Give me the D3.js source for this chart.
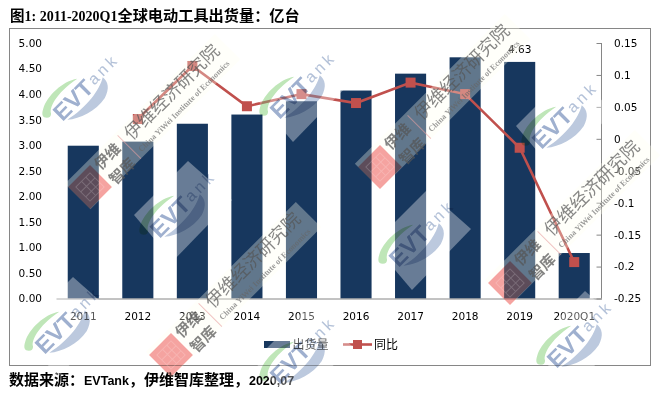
<!DOCTYPE html>
<html><head><meta charset="utf-8">
<script src="https://cdn.jsdelivr.net/npm/d3@7"></script>
<style>html,body{margin:0;padding:0;background:#fff}svg{display:block}</style></head>
<body><svg id="c" width="660" height="393"></svg>
<script>
const categories=["2011","2012","2013","2014","2015","2016","2017","2018","2019","2020Q1"];
const shipments=[2.99,3.07,3.42,3.60,3.86,4.07,4.40,4.72,4.63,0.89];
const growth=[null,0.031,0.114,0.051,0.070,0.056,0.088,0.070,-0.014,-0.193];
const leftTicks=[0,0.5,1,1.5,2,2.5,3,3.5,4,4.5,5];
const rightTicks=[0.15,0.1,0.05,0,-0.05,-0.1,-0.15,-0.2,-0.25];
const logoSpots=[[73,100],[290,98],[552,128],[170,217],[409,246],[55,333],[290,363],[567,347]];
const stampSpots=[[90,187],[380,167],[510,283],[171,355]];

const svg=d3.select("#c");
const F="'DejaVu Sans',sans-serif";
const CJK="'Noto Sans CJK SC'";
const title=svg.append("text").attr("x",10).attr("y",21).attr("font-weight","bold").attr("fill","#000");
title.append("tspan").attr("font-family",CJK).attr("font-size",14.5).text("图");
title.append("tspan").attr("font-family","'Liberation Serif'").attr("font-size",14).text("1: 2011-2020Q1");
title.append("tspan").attr("font-family",CJK).attr("font-size",15.2).text("全球电动工具出货量：亿台");
svg.append("rect").attr("x",9.5).attr("y",28.5).attr("width",641).attr("height",337)
 .attr("fill","#fff").attr("stroke","#868686");

const x=d3.scaleBand().domain(categories).range([56,601.5]).paddingInner(0.43).paddingOuter(0.215);
const yL=d3.scaleLinear().domain([0,5]).range([298.5,43]);
const yR=d3.scaleLinear().domain([-0.25,0.15]).range([298.5,43]);

svg.append("g").selectAll("rect").data(shipments).join("rect")
 .attr("x",(d,i)=>x(categories[i])).attr("width",x.bandwidth())
 .attr("y",d=>yL(d)).attr("height",d=>yL(0)-yL(d)).attr("fill","#17375e");
svg.append("text").attr("x",x(categories[8])+x.bandwidth()/2).attr("y",yL(4.63)-8.5).attr("text-anchor","middle")
 .attr("font-family",F).attr("font-size",10.5).attr("fill","#000").text("4.63");

const axL=d3.axisLeft(yL).tickValues(leftTicks).tickFormat(d3.format(".2f")).tickSize(0).tickPadding(0);
const gL=svg.append("g").attr("transform","translate(42,0)").call(axL);
gL.select(".domain").remove();
const axR=d3.axisRight(yR).tickValues(rightTicks).tickFormat(d=>String(+d.toFixed(2))).tickSize(0).tickPadding(0);
const gR=svg.append("g").attr("transform","translate(601.5,0)").call(axR);
gR.select(".domain").remove();
gR.selectAll("text").attr("x",12.5);
gR.selectAll(".tick").append("line").attr("x1",-5).attr("x2",0).attr("stroke","#868686");
svg.append("line").attr("x1",601.5).attr("x2",601.5).attr("y1",43).attr("y2",298.5).attr("stroke","#868686");
const axB=d3.axisBottom(x).tickSize(0).tickPadding(0);
const gB=svg.append("g").attr("transform","translate(0,298.5)").call(axB);
gB.select(".domain").attr("stroke","#868686");
gB.selectAll("text").attr("y",14.5);
[gL,gR,gB].forEach(g=>g.selectAll("text").attr("font-family",F).attr("font-size",10.5).attr("fill","#000"));

const pts=growth.map((v,i)=>({v,c:categories[i]})).filter(d=>d.v!==null);
const cx=d=>x(d.c)+x.bandwidth()/2;
svg.append("path").datum(pts).attr("fill","none").attr("stroke","#c0504d").attr("stroke-width",2.6)
 .attr("d",d3.line().x(cx).y(d=>yR(d.v)));
svg.append("g").selectAll("rect").data(pts).join("rect").attr("x",d=>cx(d)-5).attr("y",d=>yR(d.v)-5)
 .attr("width",10).attr("height",10).attr("fill","#c0504d");

// legend
const lg=svg.append("g");
lg.append("rect").attr("x",264).attr("y",341).attr("width",26).attr("height",7).attr("fill","#17375e");
lg.append("text").attr("x",292.5).attr("y",349).attr("font-family",CJK).attr("font-size",12).text("出货量");
lg.append("line").attr("x1",343).attr("x2",372).attr("y1",344.5).attr("y2",344.5).attr("stroke","#c0504d").attr("stroke-width",2.6);
lg.append("rect").attr("x",353).attr("y",340).attr("width",9).attr("height",9).attr("fill","#c0504d");
lg.append("text").attr("x",374).attr("y",349).attr("font-family",CJK).attr("font-size",12).text("同比");

const src=svg.append("text").attr("x",9).attr("y",385).attr("font-weight","bold").attr("fill","#000");
const srcParts=[["数据来源：",1],["EVTank",0],["，伊维智库整理，",1],["2020,07",0]];
srcParts.forEach(([t,c])=>src.append("tspan").attr("font-family",c?CJK:"'Liberation Sans'").attr("font-size",c?15:12.5).text(t));

// watermarks
const wm=svg.append("g");
logoSpots.forEach(([a,b])=>{
 wm.append("polygon").attr("transform",`translate(${a},${b})`).attr("points","-36,-2 18,-56 62,-17 3,44").attr("fill","#fff").attr("opacity",.35);
 const g=wm.append("g").attr("transform",`translate(${a},${b}) rotate(-45)`).style("mix-blend-mode","multiply");
 g.append("path").attr("d","M18,-12 C6,-21 -16,-21 -27,-15 C-33,-12 -34,-9 -31,-6 C-29,-4 -27,-4 -25,-6 C-23,-11 -8,-17 18,-12Z").attr("fill","#bfe6b8");
 g.append("path").attr("d","M-18,10 C4,15 26,12 37,5 C38,12 34,18 24,21 C8,24 -8,18 -18,10Z").attr("fill","#bcc9de");
 g.append("text").attr("x",-23).attr("y",8).attr("font-family","'Liberation Sans'").attr("font-weight","bold")
  .attr("font-size",23).attr("fill","#9fb0cf").attr("textLength",46).attr("lengthAdjust","spacingAndGlyphs").text("EVT");
 g.append("text").attr("x",25).attr("y",5).attr("font-family","'Liberation Sans'").attr("font-size",16).attr("fill","#b3c1d8")
  .attr("textLength",33).text("ank");
});
stampSpots.forEach(([a,b])=>{
 const r=wm.append("g").attr("transform",`translate(${a},${b}) rotate(-45)`);
 r.append("rect").attr("x",-15.5).attr("y",-20).attr("width",212).attr("height",36).attr("fill","#ffffee").attr("opacity",.32);
 const m=wm.append("g").attr("transform",`translate(${a},${b}) rotate(-45)`).style("mix-blend-mode","multiply");
 m.append("rect").attr("x",-15.5).attr("y",-15.5).attr("width",31).attr("height",31).attr("fill","#f5a3a3");
 const seal=wm.append("g").attr("transform",`translate(${a},${b}) rotate(-45)`).attr("stroke","#fff").attr("stroke-width",1).attr("opacity",.18).attr("fill","none");
 seal.append("rect").attr("x",-10).attr("y",-10).attr("width",20).attr("height",20);
 seal.append("path").attr("d","M-10,-3H10M-10,4H10M-2,-10V10M4,-10V10");
 const t=wm.append("g").attr("transform",`translate(${a},${b}) rotate(-45)`);
 t.append("text").attr("x",19).attr("y",-4).attr("font-family",CJK).attr("font-weight","bold").attr("font-size",15).attr("fill","#555").attr("opacity",.72).text("伊维");
 t.append("text").attr("x",19).attr("y",17).attr("font-family",CJK).attr("font-weight","bold").attr("font-size",15).attr("fill","#555").attr("opacity",.72).text("智库");
 t.append("line").attr("x1",56).attr("x2",56).attr("y1",-17).attr("y2",16).attr("stroke","#e8a0a0").attr("opacity",.6);
 t.append("text").attr("x",62).attr("y",-3).attr("font-family",CJK).attr("font-size",18).attr("fill","#555").attr("opacity",.7).text("伊维经济研究院");
 t.append("text").attr("x",61).attr("y",12).attr("font-family","'Liberation Serif'").attr("font-weight","bold").attr("font-size",8.2).attr("fill","#666").attr("opacity",.65).text("China YiWei Institute of Economics");
});
</script></body></html>
